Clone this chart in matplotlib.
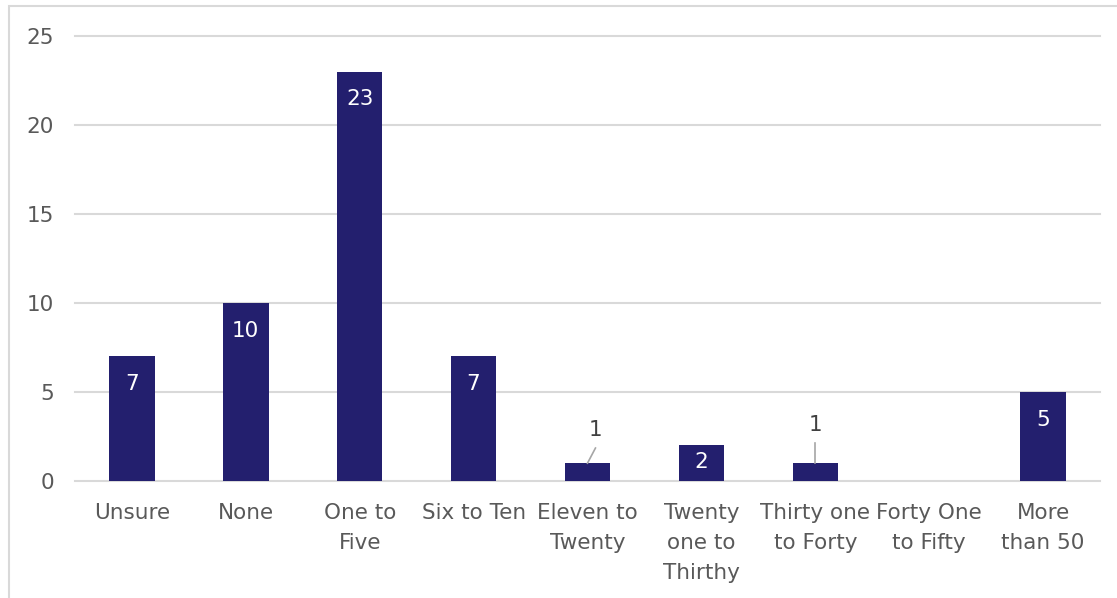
import numpy as np
import matplotlib.pyplot as plt
from matplotlib.patches import Rectangle

# Survey answers: how many of these does the organisation have
categories = ["Unsure", "None", "One to\nFive", "Six to Ten", "Eleven to\nTwenty",
              "Twenty\none to\nThirthy", "Thirty one\nto Forty", "Forty One\nto Fifty",
              "More\nthan 50"]
counts = [7, 10, 23, 7, 1, 2, 1, 0, 5]
y_ticks = [0, 5, 10, 15, 20, 25]

BAR = "#231F6E"
GRID = "#d9d9d9"
TEXT = "#595959"

plt.rcParams['font.family'] = ['DejaVu Sans']

fig = plt.figure(figsize=(11.17, 5.98), dpi=100)
ax = fig.add_axes([0.0671, 0.1957, 0.9177, 0.7441])

# light frame around the chart area
fig.patches.append(Rectangle((8.5 / 1117, -0.1), 1.2, (598 - 6.5) / 598 + 0.1,
                             transform=fig.transFigure, fill=False,
                             edgecolor=GRID, lw=1.5))

x = np.arange(len(categories))
bars = ax.bar(x, counts, width=0.4, color=BAR, zorder=3)

ax.set_xlim(-0.5, len(categories) - 0.5)
ax.set_ylim(0, 25)
ax.set_yticks(y_ticks)
ax.grid(axis='y', color=GRID, lw=1.5, zorder=0)
for gl in ax.get_ygridlines():
    gl.set_clip_on(False)
ax.set_axisbelow(True)
for s in ax.spines.values():
    s.set_visible(False)
ax.tick_params(axis='both', length=0, colors=TEXT, labelsize=15.5)
ax.tick_params(axis='y', pad=15)
ax.tick_params(axis='x', pad=16)
ax.set_xticks(x)
ax.set_xticklabels(categories, linespacing=1.62)

# value labels: inside the bar when it fits, otherwise above with a leader line
for xi, v in zip(x, counts):
    if v == 0:
        continue
    if v >= 2:
        ax.text(xi, max(v - 1.55, v / 2 + 0.07), str(v), ha='center', va='center',
                color='white', fontsize=15.5, zorder=4)
    else:
        dx = 0.07 if xi == 4 else 0.0
        ly = 2.87 if xi == 4 else 3.15
        ey = 1.85 if xi == 4 else 2.13
        ax.plot([xi, xi + dx], [v, ey], color='#a6a6a6', lw=1.2, zorder=4)
        ax.text(xi + dx, ly, str(v), ha='center', va='center',
                color='#404040', fontsize=15.5, zorder=4)

fig.savefig("out.png", dpi=100)
